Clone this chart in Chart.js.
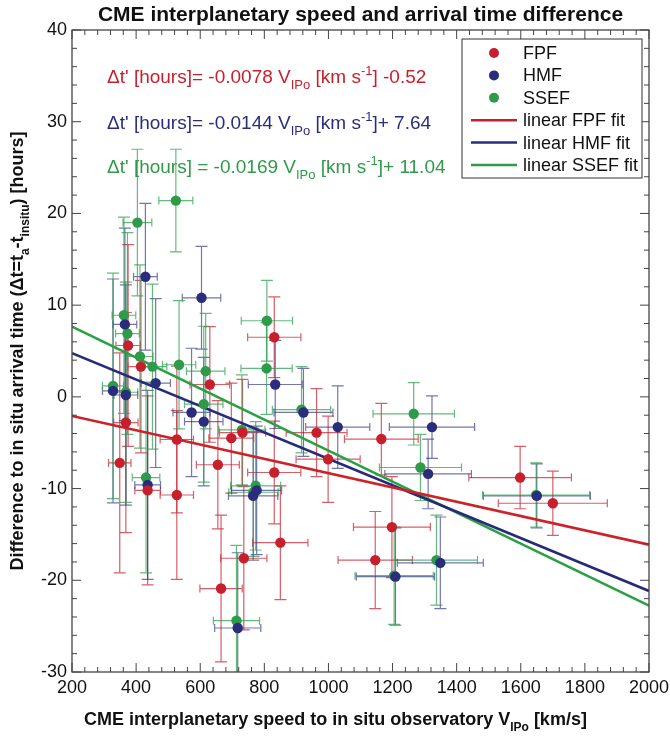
<!DOCTYPE html>
<html>
<head>
<meta charset="utf-8">
<script src="https://cdn.jsdelivr.net/npm/chart.js@4.4.1/dist/chart.umd.min.js"></script>
<style>
html, body { margin: 0; padding: 0; background: #fff; }
</style>
</head>
<body>
<canvas id="mycanvas" width="670" height="739"></canvas>
<script>
// FPF model: CME speed [km/s], arrival time difference [hours] and their errors
var fpfSpeed    = [349, 368, 375, 415, 436, 527, 527, 630, 655, 665, 697, 732, 736, 831, 831, 850, 963, 999, 1146, 1165, 1198, 1598, 1700];
var fpfDt       = [-7.2, -2.8, 5.6, 3.3, -10.2, -4.65, -10.7, 1.35, -7.4, -20.9, -4.5, -3.9, -17.6, 6.5, -8.25, -15.9, -3.9, -6.8, -17.8, -4.6, -14.2, -8.8, -11.6];
var fpfSpeedErr = [35, 38, 38, 41, 40, 52, 52, 62, 67, 66, 70, 72, 72, 83, 83, 86, 95, 100, 116, 115, 120, 160, 170];
var fpfDtErr    = [12, 12, 11, 9.4, 10.3, 8, 9.2, 6.3, 7, 8, 6, 5.8, 7.8, 4.4, 5.6, 6.2, 4.8, 4.7, 5.3, 3.9, 5.5, 3.4, 3.5];

// HMF model
var hmfSpeed    = [328, 365, 368, 429, 436, 461, 573, 604, 611, 717, 765, 776, 834, 922, 1029, 1209, 1311, 1323, 1349, 1650];
var hmfDt       = [0.65, 7.9, 0.2, 13.1, -9.6, 1.5, -1.7, 10.8, -2.7, -25.2, -10.8, -10.2, 1.35, -1.7, -3.3, -19.6, -8.4, -3.3, -18.1, -10.8];
var hmfSpeedErr = [33, 37, 37, 37, 40, 46, 58, 60, 60, 72, 77, 78, 84, 92, 100, 122, 135, 133, 134, 167];
var hmfDtErr    = [12.2, 10.5, 12, 8, 10.3, 9.2, 7, 5.6, 7, 8.2, 7, 7, 4.8, 4.8, 4.5, 5.3, 3.8, 3.4, 5, 3.5];

// SSEF model
var ssefSpeed    = [328, 362, 368, 373, 404, 412, 431, 451, 524, 534, 611, 617, 713, 730, 766, 773, 807, 808, 916, 1205, 1266, 1287, 1337, 1648];
var ssefDt       = [1.2, 8.9, 0.5, 6.9, 19.0, 4.4, -8.8, 3.3, 21.4, 3.5, -0.8, 2.8, -24.4, -3.6, -10.4, -9.7, 3.1, 8.3, -1.4, -19.5, -1.85, -7.7, -17.8, -10.7];
var ssefSpeedErr = [33, 37, 37, 37, 45, 41, 43, 45, 53, 52, 60, 60, 72, 72, 77, 78, 80, 80, 91, 122, 127, 128, 128, 167];
var ssefDtErr    = [12.3, 10.7, 12, 11, 8, 10, 10.4, 9, 5.6, 7, 8.5, 6.3, 8.2, 6, 7, 7, 5, 4.4, 4.7, 5.3, 3.4, 3.6, 4.9, 3.5];

// linear fit end points
var fitSpeed  = [200, 2000];
var fpfFitDt  = [-2.08, -16.12];
var hmfFitDt  = [4.76, -21.16];
var ssefFitDt = [7.66, -22.76];

// axis ticks
var xTicks = [200, 400, 600, 800, 1000, 1200, 1400, 1600, 1800, 2000];
var yTicks = [-30, -20, -10, 0, 10, 20, 30, 40];

var FONT = "'Liberation Sans', Arial, Helvetica, sans-serif";
var RED = '#c6202d', NAVY = '#2a2d7c', GREEN = '#2f9a49';

function toPoints(xs, ys) {
    var pts = [];
    for (var i = 0; i < xs.length; i++) {
        pts.push({ x: xs[i], y: ys[i] });
    }
    return pts;
}

// text with sub/superscripts: parts = [[text, 'sub'|'sup'|null], ...]
function richWidth(ctx, parts, size, weight) {
    var w = 0;
    parts.forEach(function(p) {
        var s = p[1] ? Math.round(size * 0.68) : size;
        ctx.font = weight + ' ' + s + 'px ' + FONT;
        w += ctx.measureText(p[0]).width;
    });
    return w;
}
function drawRich(ctx, parts, x, y, size, weight, color) {
    ctx.fillStyle = color;
    ctx.textAlign = 'left';
    ctx.textBaseline = 'alphabetic';
    parts.forEach(function(p) {
        var s = p[1] ? Math.round(size * 0.68) : size;
        ctx.font = weight + ' ' + s + 'px ' + FONT;
        var dy = p[1] === 'sub' ? size * 0.33 : (p[1] === 'sup' ? -size * 0.42 : 0);
        ctx.fillText(p[0], x, y + dy);
        x += ctx.measureText(p[0]).width;
    });
}

var errorSets = [
    { xs: fpfSpeed, ys: fpfDt, xe: fpfSpeedErr, ye: fpfDtErr, color: 'rgba(200,40,55,0.75)' },
    { xs: hmfSpeed, ys: hmfDt, xe: hmfSpeedErr, ye: hmfDtErr, color: 'rgba(40,45,130,0.65)' },
    { xs: ssefSpeed, ys: ssefDt, xe: ssefSpeedErr, ye: ssefDtErr, color: 'rgba(40,160,75,0.72)' }
];

// error bars drawn under the points
var errorBars = {
    id: 'errorBars',
    beforeDatasetsDraw: function(chart) {
        var ctx = chart.ctx, xs = chart.scales.x, ys = chart.scales.y, a = chart.chartArea;
        ctx.save();
        ctx.beginPath();
        ctx.rect(a.left, a.top, a.right - a.left, a.bottom - a.top);
        ctx.clip();
        ctx.lineWidth = 1.2;
        errorSets.forEach(function(s) {
            ctx.strokeStyle = s.color;
            for (var i = 0; i < s.xs.length; i++) {
                var px = xs.getPixelForValue(s.xs[i]);
                var py = ys.getPixelForValue(s.ys[i]);
                var x0 = xs.getPixelForValue(s.xs[i] - s.xe[i]);
                var x1 = xs.getPixelForValue(s.xs[i] + s.xe[i]);
                var y0 = ys.getPixelForValue(s.ys[i] - s.ye[i]);
                var y1 = ys.getPixelForValue(s.ys[i] + s.ye[i]);
                ctx.beginPath();
                ctx.moveTo(px, y0); ctx.lineTo(px, y1);       // vertical
                ctx.moveTo(px - 6, y0); ctx.lineTo(px + 6, y0);
                ctx.moveTo(px - 6, y1); ctx.lineTo(px + 6, y1);
                ctx.moveTo(x0, py); ctx.lineTo(x1, py);       // horizontal
                ctx.moveTo(x0, py - 4); ctx.lineTo(x0, py + 4);
                ctx.moveTo(x1, py - 4); ctx.lineTo(x1, py + 4);
                ctx.stroke();
            }
        });
        ctx.restore();
    }
};

// box, inward ticks, titles, equations and legend
var decorations = {
    id: 'decorations',
    afterDraw: function(chart) {
        var ctx = chart.ctx, xs = chart.scales.x, ys = chart.scales.y, a = chart.chartArea;
        ctx.save();

        // frame
        ctx.strokeStyle = '#444';
        ctx.lineWidth = 1.3;
        ctx.strokeRect(a.left, a.top, a.right - a.left, a.bottom - a.top);

        // ticks on all four sides
        ctx.lineWidth = 1;
        ctx.beginPath();
        var v, p, len;
        for (v = 200; v <= 2000; v += 40) {
            p = xs.getPixelForValue(v);
            len = (v % 200 === 0) ? 9 : 5;
            ctx.moveTo(p, a.bottom); ctx.lineTo(p, a.bottom - len);
            ctx.moveTo(p, a.top); ctx.lineTo(p, a.top + len);
        }
        for (v = -30; v <= 40; v += 2) {
            p = ys.getPixelForValue(v);
            len = (v % 10 === 0) ? 9 : 5;
            ctx.moveTo(a.left, p); ctx.lineTo(a.left + len, p);
            ctx.moveTo(a.right, p); ctx.lineTo(a.right - len, p);
        }
        ctx.stroke();

        var cx = (a.left + a.right) / 2;
        var cy = (a.top + a.bottom) / 2;

        // title
        ctx.fillStyle = '#111';
        ctx.font = 'bold 21px ' + FONT;
        ctx.textAlign = 'center';
        ctx.textBaseline = 'alphabetic';
        ctx.fillText('CME interplanetary speed and arrival time difference', cx, 21);

        // x axis title
        var xt = [['CME interplanetary speed to in situ observatory V', null], ['IPo', 'sub'], [' [km/s]', null]];
        var w = richWidth(ctx, xt, 18, 'bold');
        drawRich(ctx, xt, cx - w / 2 - 25, 725, 18, 'bold', '#111');

        // y axis title
        var yt = [['Difference to in situ arrival time (\u0394t=t', null], ['a', 'sub'], ['-t', null], ['insitu', 'sub'], [') [hours]', null]];
        w = richWidth(ctx, yt, 18, 'bold');
        ctx.save();
        ctx.translate(23, cy);
        ctx.rotate(-Math.PI / 2);
        drawRich(ctx, yt, -w / 2, 0, 18, 'bold', '#111');
        ctx.restore();

        // fit equations
        var eqX = a.left + 35;
        drawRich(ctx, [["\u0394t' [hours]= -0.0078 V", null], ['IPo', 'sub'], [' [km s', null], ['-1', 'sup'], ['] -0.52', null]],
            eqX, a.top + 53, 19, 'normal', RED);
        drawRich(ctx, [["\u0394t' [hours]= -0.0144 V", null], ['IPo', 'sub'], [' [km s', null], ['-1', 'sup'], [']+ 7.64', null]],
            eqX, a.top + 99, 19, 'normal', NAVY);
        drawRich(ctx, [["\u0394t' [hours] = -0.0169 V", null], ['IPo', 'sub'], [' [km s', null], ['-1', 'sup'], [']+ 11.04', null]],
            eqX, a.top + 143, 19, 'normal', GREEN);

        // legend box
        var lx = a.right - 187, ly = a.top + 9, lw = 180, lh = 139;
        ctx.fillStyle = '#fff';
        ctx.fillRect(lx, ly, lw, lh);
        ctx.strokeStyle = '#333';
        ctx.lineWidth = 1;
        ctx.strokeRect(lx, ly, lw, lh);
        var items = [
            ['FPF', RED, 'dot'], ['HMF', NAVY, 'dot'], ['SSEF', GREEN, 'dot'],
            ['linear FPF fit', RED, 'line'], ['linear HMF fit', NAVY, 'line'], ['linear SSEF fit', GREEN, 'line']
        ];
        ctx.font = '18px ' + FONT;
        ctx.textAlign = 'left';
        ctx.textBaseline = 'middle';
        items.forEach(function(it, i) {
            var ry = ly + 14 + i * 22.4;
            if (it[2] === 'dot') {
                ctx.fillStyle = it[1];
                ctx.beginPath();
                ctx.arc(lx + 32, ry, 5, 0, Math.PI * 2);
                ctx.fill();
            } else {
                ctx.strokeStyle = it[1];
                ctx.lineWidth = 2.5;
                ctx.beginPath();
                ctx.moveTo(lx + 9, ry); ctx.lineTo(lx + 55, ry);
                ctx.stroke();
            }
            ctx.fillStyle = '#111';
            ctx.fillText(it[0], lx + 61, ry + 1);
        });

        ctx.restore();
    }
};

var chartdata = {
    datasets: [
        { type: 'scatter', label: 'FPF', data: toPoints(fpfSpeed, fpfDt), backgroundColor: RED, borderWidth: 0, pointRadius: 5.2, order: 0 },
        { type: 'scatter', label: 'HMF', data: toPoints(hmfSpeed, hmfDt), backgroundColor: NAVY, borderWidth: 0, pointRadius: 5.2, order: 0 },
        { type: 'scatter', label: 'SSEF', data: toPoints(ssefSpeed, ssefDt), backgroundColor: GREEN, borderWidth: 0, pointRadius: 5.2, order: 0 },
        { type: 'line', label: 'linear FPF fit', data: toPoints(fitSpeed, fpfFitDt), borderColor: '#cc2229', borderWidth: 2.6, pointRadius: 0, order: 1 },
        { type: 'line', label: 'linear HMF fit', data: toPoints(fitSpeed, hmfFitDt), borderColor: '#262a78', borderWidth: 2.6, pointRadius: 0, order: 1 },
        { type: 'line', label: 'linear SSEF fit', data: toPoints(fitSpeed, ssefFitDt), borderColor: '#2aa043', borderWidth: 2.6, pointRadius: 0, order: 1 }
    ]
};

var ctx = document.getElementById('mycanvas');
var chart = new Chart(ctx, {
    type: 'scatter',
    data: chartdata,
    plugins: [errorBars, decorations],
    options: {
        responsive: false,
        animation: false,
        layout: { padding: { top: 30, right: 21, left: 0, bottom: 0 } },
        scales: {
            x: {
                type: 'linear',
                min: 200,
                max: 2000,
                afterBuildTicks: function(scale) {
                    scale.ticks = xTicks.map(function(v) { return { value: v }; });
                },
                afterFit: function(scale) {
                    scale.height = 67;
                    scale.paddingLeft = 0;   // let the layout padding decide the plot edges
                    scale.paddingRight = 0;
                },
                grid: { display: false, drawTicks: false },
                border: { display: false },
                ticks: {
                    autoSkip: false, maxRotation: 0, padding: 5, color: '#111',
                    font: { family: FONT, size: 18 },
                    callback: function(value) { return String(value); } // no thousands separator
                }
            },
            y: {
                type: 'linear',
                min: -30,
                max: 40,
                afterBuildTicks: function(scale) {
                    scale.ticks = yTicks.map(function(v) { return { value: v }; });
                },
                afterFit: function(scale) {
                    scale.width = 72;
                    scale.paddingTop = 0;
                    scale.paddingBottom = 0;
                },
                grid: { display: false, drawTicks: false },
                border: { display: false },
                ticks: {
                    autoSkip: false, padding: 5, color: '#111',
                    font: { family: FONT, size: 18 },
                    callback: function(value) { return String(value); }
                }
            }
        },
        plugins: {
            legend: { display: false },
            tooltip: { enabled: false },
            title: { display: false }
        }
    }
});
</script>
</body>
</html>
